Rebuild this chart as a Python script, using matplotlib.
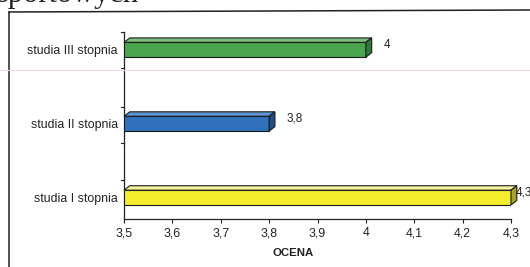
import matplotlib
matplotlib.use("Agg")
import matplotlib.pyplot as plt
from matplotlib.patches import Polygon
from matplotlib.lines import Line2D

categories = ["studia I stopnia", "studia II stopnia", "studia III stopnia"]
values = [4.3, 3.8, 4.0]
value_labels = ["4,3", "3,8", "4"]
colors = ["#f4ee2c", "#2f72bb", "#4aa64e"]
top_colors = ["#f7f3a0", "#5f95cf", "#7cc07e"]
side_colors = ["#a8a226", "#1f4f85", "#2f7a34"]
xticks = [3.5, 3.6, 3.7, 3.8, 3.9, 4.0, 4.1, 4.2, 4.3]
xtick_labels = ["3,5", "3,6", "3,7", "3,8", "3,9", "4", "4,1", "4,2", "4,3"]

W, H = 530, 267
fig = plt.figure(figsize=(W / 100, H / 100), dpi=100)
fig.patch.set_facecolor("white")

ax = fig.add_axes([124 / W, 1 - 219 / H, (511 - 124) / W, (219 - 32) / H])
x0 = 3.5
ax.set_xlim(3.5, 4.3)
ax.set_ylim(-0.29, 2.24)

bar_h = 0.2
dx = 0.012
dy = 0.06
for i, (v, c, tc, sc) in enumerate(zip(values, colors, top_colors, side_colors)):
    ax.barh(i, v - x0, left=x0, height=bar_h, color=c, edgecolor="#1a1a1a",
            linewidth=0.8, zorder=3)
    yt = i + bar_h / 2
    yb = i - bar_h / 2
    top = Polygon([(x0, yt), (v, yt), (v + dx, yt + dy), (x0 + dx, yt + dy)],
                  closed=True, facecolor=tc, edgecolor="#1a1a1a", linewidth=0.8,
                  zorder=3, clip_on=False)
    side = Polygon([(v, yb), (v + dx, yb + dy), (v + dx, yt + dy), (v, yt)],
                   closed=True, facecolor=sc, edgecolor="#1a1a1a", linewidth=0.8,
                   zorder=3, clip_on=False)
    ax.add_patch(top)
    ax.add_patch(side)
    lx = min(v + 0.036, 4.31)
    ax.text(lx, i + 0.07, value_labels[i], fontsize=8.5, ha="left",
            va="center", family="Liberation Sans", color="#222222", clip_on=False)

ax.set_yticks(range(len(categories)))
ax.set_yticklabels(categories, fontsize=8.9, family="Liberation Sans", color="#222222")
ax.tick_params(axis="y", length=0, pad=4.5)
for yy in [2.24, 1.75, 1.22, 0.74, 0.24]:
    ax.plot([3.5, 3.5 - 0.006], [yy, yy], color="#222222", lw=0.8, clip_on=False)

ax.set_xticks(xticks)
ax.set_xticklabels(xtick_labels, fontsize=8.9, family="Liberation Sans", color="#222222")
ax.tick_params(axis="x", length=3, width=0.8, pad=3, direction="out", colors="#222222")
ax.set_xlabel("OCENA", fontsize=8.2, fontweight="bold", family="Liberation Sans",
              color="#222222")
ax.xaxis.set_label_coords((293 - 124) / (511 - 124), -(248 - 219) / (219 - 32))

for s in ["top", "right"]:
    ax.spines[s].set_visible(False)
for s in ["left", "bottom"]:
    ax.spines[s].set_linewidth(0.9)
    ax.spines[s].set_color("#222222")

# page frame and faint scan line
fig.add_artist(Line2D([9 / W, 9 / W], [0, 1 - 12 / H], transform=fig.transFigure,
                      color="#222222", lw=1.1))
fig.add_artist(Line2D([9 / W, 1], [1 - 12 / H, 1 - 10 / H], transform=fig.transFigure,
                      color="#222222", lw=1.1))
fig.add_artist(Line2D([0, 1], [1 - 70 / H, 1 - 70 / H], transform=fig.transFigure,
                      color="#f0dcdc", lw=0.8))
fig.text(-3 / W, 1 - 2 / H, "sportowych", fontsize=22, family="Liberation Serif",
         ha="left", va="baseline", color="#222222")

fig.savefig("out.png", dpi=100)
